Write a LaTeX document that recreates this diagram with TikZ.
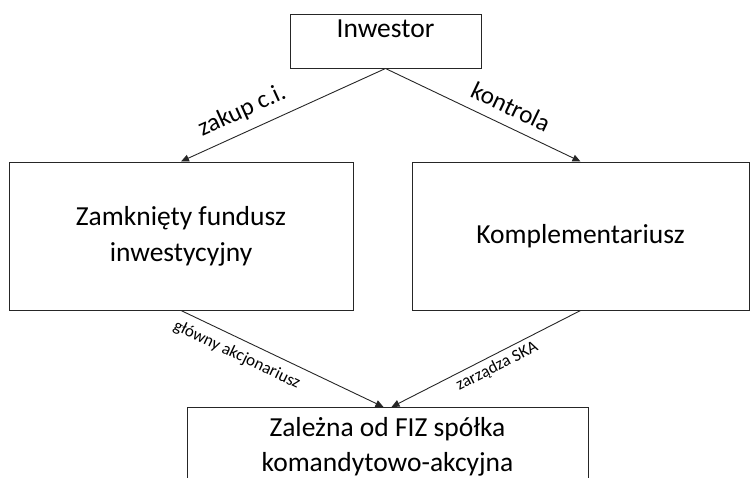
\documentclass[tikz,border=0pt]{standalone}
\usepackage{fontspec}
\setmainfont{Carlito}
\usetikzlibrary{positioning, calc, arrows.meta}

\begin{document}
\begin{tikzpicture}[
        x=1pt, y=-1pt,
        % Style for the boxes
        box/.style={
            rectangle, draw=black!85, line width=1pt, fill=white,
            align=center, font=\fontsize{27.5}{36}\selectfont, inner sep=0pt
        },
        % Style for the arrows between boxes
        link/.style={-{Triangle[length=8pt, width=7pt]}, line width=0.9pt, draw=black!85},
        % Styles for the edge labels
        biglabel/.style={font=\fontsize{25}{30}\selectfont, sloped},
        smalllabel/.style={font=\fontsize{17}{20}\selectfont, sloped}
    ]

        % 0. Page frame
        \useasboundingbox (0,0) rectangle (750,477);
        \clip (0,0) rectangle (750,477);

        % 1. Boxes
        \node[box, minimum width=191pt, text height=23pt, text depth=31pt] (inwestor) at (385.5, 41) {Inwestor};
        \node[box, minimum width=344pt, minimum height=148pt] (fiz)   at (181, 236)   {Zamknięty fundusz\\inwestycyjny};
        \node[box, minimum width=337pt, minimum height=148pt] (kompl) at (580.5, 236) {Komplementariusz};
        \node[box, minimum width=401pt, minimum height=120pt, anchor=north] (ska) at (387.5, 407) {};
        % text of the bottom box sits at its top
        \node[box, draw=none, fill=none, anchor=north, font=\fontsize{27.5}{35}\selectfont] (skatext)
            at ($(ska.north)+(0,9.5)$) {Zależna od FIZ spółka\\komandytowo-akcyjna};

        % 2. Relationships
        \draw[link] (inwestor.south) -- (fiz.north)
            node[biglabel, pos=0.66, above=6pt] {zakup c.i.};
        \draw[link] (inwestor.south) -- (kompl.north)
            node[biglabel, pos=0.6, above=7pt] {kontrola};
        \draw[link] (fiz.south) -- ([xshift=-4pt]ska.north)
            node[smalllabel, pos=0.31, below=5pt] {główny akcjonariusz};
        \draw[link] (kompl.south) -- ([xshift=4pt]ska.north)
            node[smalllabel, pos=0.47, below=1pt] {zarządza SKA};

\end{tikzpicture}
\end{document}
